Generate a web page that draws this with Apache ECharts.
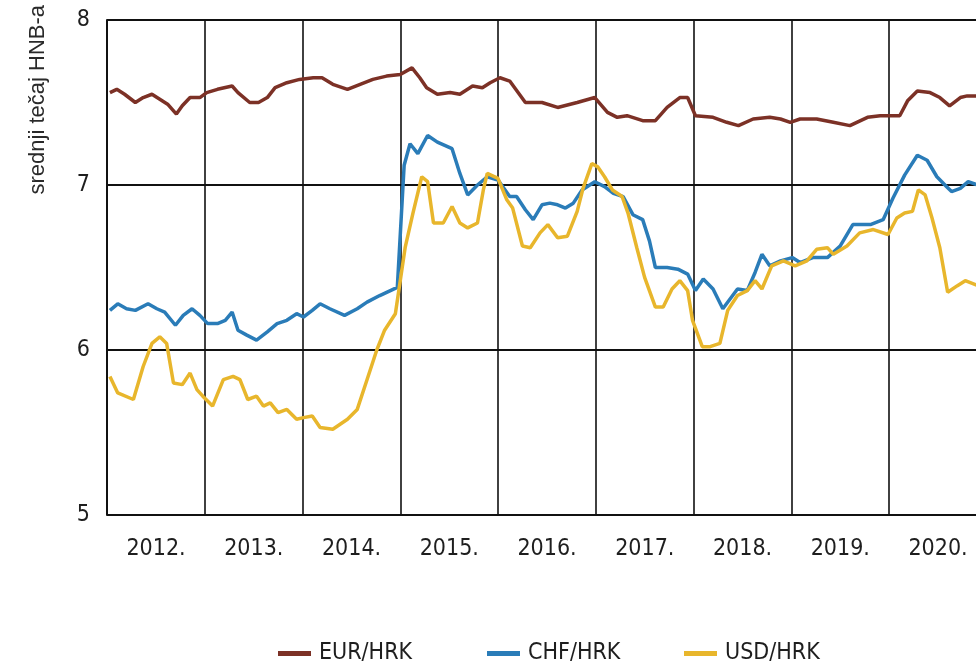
<!DOCTYPE html>
<html>
<head>
<meta charset="utf-8">
<script src="https://cdn.jsdelivr.net/npm/echarts@6/dist/echarts.min.js"></script>
<style>
html,body{margin:0;padding:0;background:#fff;}
#chart{width:976px;height:666px;}
</style>
</head>
<body>
<div id="chart"></div>
<script>
// Year labels
const yearLabels = [2012, 2013, 2014, 2015, 2016, 2017, 2018, 2019, 2020];
const yTicks = [5, 6, 7, 8];
const seriesNames = ['EUR/HRK', 'CHF/HRK', 'USD/HRK'];

// EUR/HRK (decimal year, rate)
const eurT = [2012.03,2012.10,2012.18,2012.29,2012.37,2012.46,2012.54,2012.62,2012.71,2012.77,2012.85,2012.95,
  2013.02,2013.13,2013.28,2013.34,2013.46,2013.55,2013.64,2013.72,2013.84,2013.97,
  2014.11,2014.20,2014.31,2014.46,2014.59,2014.72,2014.86,2015.00,
  2015.12,2015.20,2015.27,2015.38,2015.51,2015.61,2015.74,2015.84,2015.92,
  2016.02,2016.12,2016.28,2016.45,2016.61,2016.81,2016.99,
  2017.12,2017.22,2017.32,2017.48,2017.61,2017.73,2017.86,2017.94,
  2018.02,2018.20,2018.34,2018.46,2018.61,2018.78,2018.89,2018.99,
  2019.09,2019.26,2019.43,2019.60,2019.78,2019.91,2020.11,
  2020.19,2020.29,2020.42,2020.52,2020.62,2020.73,2020.80,2020.91];
const eurV = [7.56,7.58,7.55,7.50,7.53,7.55,7.52,7.49,7.43,7.48,7.53,7.53,
  7.56,7.58,7.60,7.56,7.50,7.50,7.53,7.59,7.62,7.64,
  7.65,7.65,7.61,7.58,7.61,7.64,7.66,7.67,
  7.71,7.65,7.59,7.55,7.56,7.55,7.60,7.59,7.62,
  7.65,7.63,7.50,7.50,7.47,7.50,7.53,
  7.44,7.41,7.42,7.39,7.39,7.47,7.53,7.53,
  7.42,7.41,7.38,7.36,7.40,7.41,7.40,7.38,
  7.40,7.40,7.38,7.36,7.41,7.42,7.42,
  7.51,7.57,7.56,7.53,7.48,7.53,7.54,7.54];

// CHF/HRK
const chfT = [2012.03,2012.11,2012.20,2012.29,2012.42,2012.51,2012.59,2012.70,2012.78,2012.87,2012.95,
  2013.03,2013.13,2013.21,2013.28,2013.34,2013.43,2013.53,2013.64,2013.74,2013.84,2013.94,
  2014.01,2014.10,2014.18,2014.28,2014.43,2014.56,2014.66,2014.79,2014.97,
  2015.04,2015.10,2015.18,2015.28,2015.38,2015.53,2015.61,2015.69,2015.79,2015.89,2016.00,
  2016.12,2016.19,2016.28,2016.36,2016.45,2016.53,2016.61,2016.69,2016.77,2016.86,2016.99,
  2017.09,2017.18,2017.28,2017.38,2017.48,2017.55,2017.61,2017.73,2017.84,2017.94,
  2018.02,2018.10,2018.20,2018.30,2018.45,2018.55,2018.63,2018.70,2018.78,2018.89,
  2019.01,2019.09,2019.22,2019.37,2019.50,2019.63,2019.81,2019.94,
  2020.04,2020.16,2020.29,2020.39,2020.49,2020.59,2020.64,2020.73,2020.81,2020.91];
const chfV = [6.24,6.28,6.25,6.24,6.28,6.25,6.23,6.15,6.21,6.25,6.21,
  6.16,6.16,6.18,6.23,6.12,6.09,6.06,6.11,6.16,6.18,6.22,
  6.20,6.24,6.28,6.25,6.21,6.25,6.29,6.33,6.38,
  7.12,7.25,7.19,7.30,7.26,7.22,7.07,6.94,7.00,7.05,7.03,
  6.93,6.93,6.85,6.79,6.88,6.89,6.88,6.86,6.89,6.97,7.02,
  6.99,6.95,6.93,6.82,6.79,6.66,6.50,6.50,6.49,6.46,
  6.36,6.43,6.37,6.25,6.37,6.36,6.47,6.58,6.51,6.54,
  6.56,6.53,6.56,6.56,6.63,6.76,6.76,6.79,
  6.92,7.06,7.18,7.15,7.05,6.99,6.96,6.98,7.02,7.00];

// USD/HRK
const usdT = [2012.03,2012.11,2012.27,2012.37,2012.46,2012.54,2012.61,2012.68,2012.77,2012.85,2012.92,2012.98,
  2013.08,2013.19,2013.29,2013.36,2013.44,2013.53,2013.60,2013.67,2013.75,2013.84,2013.94,
  2014.01,2014.10,2014.18,2014.31,2014.46,2014.56,2014.66,2014.76,2014.84,2014.95,
  2015.00,2015.05,2015.13,2015.22,2015.28,2015.34,2015.44,2015.53,2015.61,2015.69,2015.79,2015.85,2015.89,2016.00,
  2016.09,2016.15,2016.25,2016.33,2016.43,2016.51,2016.61,2016.71,2016.81,2016.87,2016.96,
  2017.02,2017.09,2017.17,2017.27,2017.33,2017.42,2017.50,2017.61,2017.69,2017.78,2017.86,2017.94,2017.99,
  2018.09,2018.17,2018.27,2018.35,2018.45,2018.55,2018.63,2018.70,2018.80,2018.92,
  2019.04,2019.16,2019.26,2019.37,2019.43,2019.57,2019.70,2019.84,2019.99,
  2020.08,2020.16,2020.24,2020.30,2020.37,2020.44,2020.52,2020.60,2020.70,2020.78,2020.91];
const usdV = [5.84,5.74,5.70,5.90,6.04,6.08,6.04,5.80,5.79,5.86,5.76,5.72,
  5.66,5.82,5.84,5.82,5.70,5.72,5.66,5.68,5.62,5.64,5.58,
  5.59,5.60,5.53,5.52,5.58,5.64,5.82,6.00,6.12,6.22,
  6.42,6.62,6.83,7.05,7.02,6.77,6.77,6.87,6.77,6.74,6.77,6.97,7.07,7.04,
  6.91,6.86,6.63,6.62,6.71,6.76,6.68,6.69,6.84,6.98,7.13,
  7.11,7.05,6.97,6.93,6.83,6.62,6.44,6.26,6.26,6.37,6.42,6.36,6.18,
  6.02,6.02,6.04,6.24,6.33,6.36,6.42,6.37,6.51,6.54,
  6.51,6.54,6.61,6.62,6.58,6.63,6.71,6.73,6.70,
  6.80,6.83,6.84,6.97,6.94,6.80,6.62,6.35,6.39,6.42,6.39];

const zip = (t, v) => t.map((x, i) => [x, v[i]]);

const narrow = "'DejaVu Sans Condensed', 'Liberation Sans Narrow', sans-serif";
const legendLefts = [278, 487, 684];

const chart = echarts.init(document.getElementById('chart'), null, {renderer: 'canvas'});
chart.setOption({
  animation: false,
  backgroundColor: '#ffffff',
  grid: {left: 107, right: -3, top: 20, bottom: 151, containLabel: false, outerBoundsMode: 'none'},
  graphic: [{
    type: 'text',
    left: 27, top: 5,
    rotation: Math.PI / 2,
    style: {
      text: 'srednji tečaj HNB-a',
      fontSize: 22,
      fontFamily: "'Liberation Sans', Arial, sans-serif",
      fill: '#2a2a2a'
    }
  }],
  legend: seriesNames.map((n, i) => ({
    data: [n],
    left: legendLefts[i],
    top: 642,
    padding: 0,
    icon: 'rect',
    itemWidth: 33,
    itemHeight: 5,
    textStyle: {fontSize: 23, fontFamily: narrow, color: '#1e1e1e', padding: [0, 0, 0, 3]}
  })),
  xAxis: {
    type: 'value',
    min: 2012,
    max: 2012 + 872 / 97.75,
    interval: 1,
    axisLine: {show: false},
    axisTick: {show: false},
    splitLine: {show: true, lineStyle: {color: '#111', width: 1.6}},
    axisLabel: {
      margin: 23,
      showMaxLabel: false,
      formatter: function (v) {
        const y = Math.round(v);
        if (Math.abs(v - y) > 1e-6 || yearLabels.indexOf(y) < 0) return '';
        return '{y|' + y + '.}';
      },
      rich: {
        y: {fontSize: 23, fontFamily: narrow, color: '#1e1e1e', padding: [0, 0, 0, 98]}
      }
    }
  },
  yAxis: {
    type: 'value',
    min: yTicks[0],
    max: yTicks[yTicks.length - 1],
    interval: 1,
    axisLine: {show: true, lineStyle: {color: '#111', width: 2}},
    axisTick: {show: false},
    splitLine: {show: true, lineStyle: {color: '#111', width: 2}},
    axisLabel: {margin: 17, fontSize: 23, fontFamily: narrow, color: '#1e1e1e'}
  },
  series: [
    {name: seriesNames[0], type: 'line', data: zip(eurT, eurV), symbol: 'none',
     lineStyle: {color: '#7c3126', width: 3.5}, itemStyle: {color: '#7c3126'}, z: 3},
    {name: seriesNames[1], type: 'line', data: zip(chfT, chfV), symbol: 'none',
     lineStyle: {color: '#2a7cb8', width: 3.5}, itemStyle: {color: '#2a7cb8'}, z: 2},
    {name: seriesNames[2], type: 'line', data: zip(usdT, usdV), symbol: 'none',
     lineStyle: {color: '#e8b62c', width: 3.5}, itemStyle: {color: '#e8b62c'}, z: 4}
  ]
});
</script>
</body>
</html>
